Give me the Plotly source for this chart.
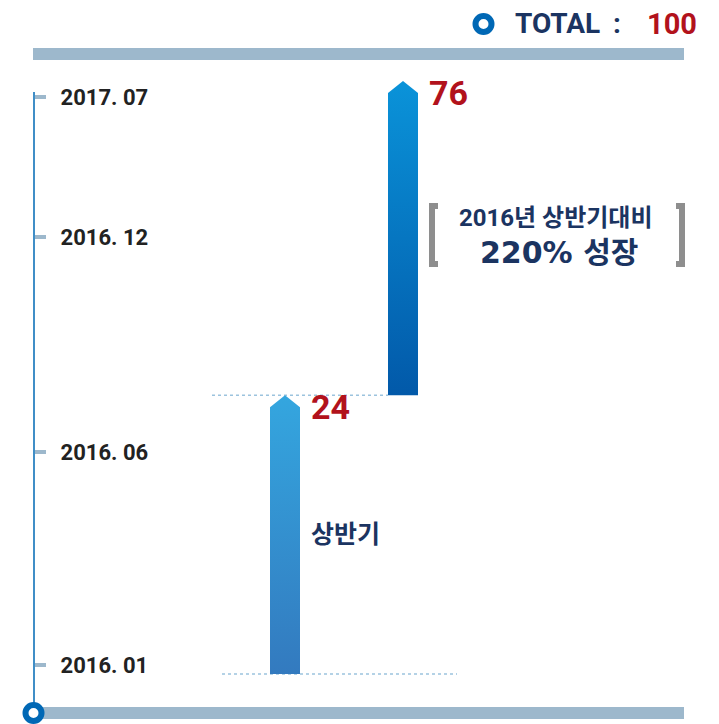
import plotly.graph_objects as go

# ---- data ----
periods = ["2016. 01", "2016. 06", "2016. 12", "2017. 07"]
period_pos = [1.5, 37.4, 73.7, 97.3]          # position on the timeline scale
segment_names = ["상반기", "하반기"]
segment_values = [24, 76]
segment_base = [0, 47]                        # timeline extent of each arrow
segment_top = [47, 100]
total_value = 100
growth_line1 = "2016년 상반기대비"
growth_line2 = "220% 성장"

# ---- style ----
OFF = 8                      # page body margin
W, H = 719 - OFF, 724 - OFF  # figure size
top_colors = ["#34A6DF", "#0A93D9"]
bottom_colors = ["#337ABF", "#0259A9"]
navy = "#1B3461"
red = "#B2121C"
steel = "#9DB8CC"
axis_blue = "#0068B5"
KFONT = "Roboto, 'Noto Sans CJK KR', sans-serif"


def px(x):
    return (x - OFF) / W


def py(y):
    return 1 - (y - OFF) / H


# axis mapping: x index 0 -> page px 285, step 118 px ; y 0 -> page px 674, 100 -> page px 81
px_per_x = 118.0
x0_px = 285.0 - OFF
xr = [-x0_px / px_per_x, (W - x0_px) / px_per_x]
py_per_y = (674 - 81) / 100.0
y0_px = 674 - OFF
yr = [-(H - y0_px) / py_per_y, y0_px / py_per_y]

bar_w = 30 / px_per_x
head_h = 12 / py_per_y

fig = go.Figure()

for i, (b, t) in enumerate(zip(segment_base, segment_top)):
    xc = i
    xs = [xc - bar_w / 2, xc + bar_w / 2, xc + bar_w / 2, xc, xc - bar_w / 2, xc - bar_w / 2]
    ys = [b, b, t - head_h, t, t - head_h, b]
    fig.add_trace(go.Scatter(
        x=xs, y=ys, fill="toself", mode="lines",
        line=dict(width=0, color=top_colors[i]),
        fillgradient=dict(type="vertical",
                          colorscale=[[0, bottom_colors[i]], [1, top_colors[i]]]),
        hoverinfo="skip", showlegend=False,
    ))
    fig.add_annotation(x=xc + bar_w / 2, y=t, xref="x", yref="y",
                       text=f"<b>{segment_values[i]}</b>", showarrow=False,
                       xanchor="left", yanchor="middle", xshift=9, yshift=-12,
                       font=dict(family="Roboto, sans-serif", size=34, color=red))

# dotted guide lines
fig.add_shape(type="line", x0=-63 / px_per_x, x1=172 / px_per_x, y0=segment_base[0], y1=segment_base[0],
              line=dict(color="#9CC3DE", width=1.5, dash="dot"), layer="below")
fig.add_shape(type="line", x0=-73 / px_per_x, x1=1 - bar_w / 2, y0=segment_base[1], y1=segment_base[1],
              line=dict(color="#9CC3DE", width=1.5, dash="dot"), layer="below")

# first-half label
fig.add_annotation(x=0 + bar_w / 2, y=(segment_base[0] + segment_top[0]) / 2, xref="x", yref="y",
                   text=f"<b>{segment_names[0]}</b>", showarrow=False, xanchor="left", yanchor="middle",
                   xshift=9, font=dict(family=KFONT, size=25, color=navy))

# growth text with brackets
fig.add_annotation(xref="paper", yref="paper", x=px(556), y=py(218), xanchor="center", yanchor="middle",
                   text=f"<b>{growth_line1}</b>", showarrow=False,
                   font=dict(family=KFONT, size=24, color=navy))
fig.add_annotation(xref="paper", yref="paper", x=px(559), y=py(253), xanchor="center", yanchor="middle",
                   text=f"<b>{growth_line2}</b>", showarrow=False,
                   font=dict(family="'DejaVu Sans', 'Noto Sans CJK KR', sans-serif", size=30, color=navy))
for xa, xb in [(432, 438), (682, 676)]:
    fig.add_shape(type="path", xref="paper", yref="paper",
                  path=f"M {px(xb)},{py(206)} L {px(xa)},{py(206)} L {px(xa)},{py(264)} L {px(xb)},{py(264)}",
                  line=dict(color="#8E8E8E", width=6))

# top & bottom bars
fig.add_shape(type="rect", xref="paper", yref="paper", x0=px(33), x1=px(684), y0=py(60), y1=py(48),
              fillcolor=steel, line_width=0)
fig.add_shape(type="rect", xref="paper", yref="paper", x0=px(33), x1=px(684), y0=py(719), y1=py(707),
              fillcolor=steel, line_width=0)
# timeline vertical line
fig.add_shape(type="line", xref="paper", yref="paper", x0=px(34), x1=px(34), y0=py(713), y1=py(92),
              line=dict(color=axis_blue, width=1.5))
# bottom circle
fig.add_shape(type="circle", xref="paper", yref="paper",
              x0=px(25.5), x1=px(41.5), y0=py(721), y1=py(705),
              fillcolor="white", line=dict(color=axis_blue, width=6))
# total header
fig.add_shape(type="circle", xref="paper", yref="paper",
              x0=px(475.5), x1=px(491.5), y0=py(32), y1=py(16),
              fillcolor="white", line=dict(color=axis_blue, width=6))
tfont = dict(family="Roboto, sans-serif", size=28, color=navy)
fig.add_annotation(xref="paper", yref="paper", x=px(513), y=py(24), xanchor="left", yanchor="middle",
                   text="<b>TOTAL</b>", showarrow=False, font=tfont)
fig.add_annotation(xref="paper", yref="paper", x=px(617), y=py(24), xanchor="center", yanchor="middle",
                   text="<b>:</b>", showarrow=False, font=tfont)
fig.add_annotation(xref="paper", yref="paper", x=px(699), y=py(24), xanchor="right", yanchor="middle",
                   text=f"<b>{total_value}</b>", showarrow=False,
                   font=dict(family="Roboto, sans-serif", size=29, color=red))

fig.update_layout(
    width=W, height=H, margin=dict(l=0, r=0, t=0, b=0),
    paper_bgcolor="white", plot_bgcolor="white",
    xaxis=dict(range=xr, visible=False, fixedrange=True, domain=[0, 1]),
    yaxis=dict(range=yr, anchor="free", position=px(34), showgrid=False, zeroline=False,
               showline=False, tickvals=period_pos, ticktext=[f"<b>{p}</b>" for p in periods],
               ticks="inside", ticklen=11, tickwidth=4, tickcolor=steel,
               ticklabelposition="inside", ticklabelstandoff=16,
               tickfont=dict(family="Roboto, sans-serif", size=22, color="#222222")),
    showlegend=False,
)

fig.write_html("out.html")
